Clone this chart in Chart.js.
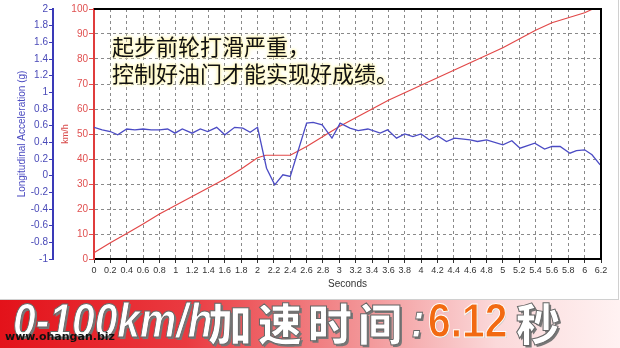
<!DOCTYPE html>
<html>
<head>
<meta charset="utf-8">
<script src="https://cdn.jsdelivr.net/npm/chart.js@4/dist/chart.umd.min.js"></script>
<style>
	html, body { margin: 0; padding: 0; background: #fff; }
	#wrap { position: relative; width: 620px; height: 348px; overflow: hidden; }
	#panel { position: absolute; left: 0; top: 0; width: 618px; height: 299px; border-right: 1px solid #d0d0d0; border-bottom: 1px solid #d0d0d0; }
	#note { position: absolute; left: 112px; top: 32px; font-family: "Noto Sans CJK SC", sans-serif; font-size: 22px; line-height: 27px; color: #111;
		text-shadow: 0 0 3px #fff6b8, 0 0 3px #fff6b8, 0 0 5px #fff3a0; }
	#banner { position: absolute; left: 0; top: 300px; width: 620px; height: 48px;
		background: linear-gradient(to right, #e3121a 0%, #ea3a40 30%, #f39a9c 60%, #fbd9da 80%, #fff2f2 100%); }
	#banner span { position: absolute; white-space: nowrap; color: #fff; -webkit-text-stroke: 1px #666; text-shadow: 2px 2px 0 #777; transform-origin: left top; }
	#banner .lat { top: -7px; font-family: "Liberation Sans", Arial, sans-serif; font-weight: bold; font-style: italic; font-size: 48px; line-height: 56px; transform: scaleX(0.85); }
	#banner .cjk { top: -6px; font-family: "Noto Sans CJK SC", sans-serif; font-weight: 900; font-size: 44px; line-height: 56px; letter-spacing: 6px; }
	#banner .num { color: #f26a12; -webkit-text-stroke: 1px #fff; text-shadow: 1px 1px 0 #c9c9c9; font-style: normal; }
	#site { position: absolute; left: 5px; top: 30px; font-family: "DejaVu Sans", sans-serif; font-weight: bold; font-size: 11px; color: #111; }
</style>
</head>
<body>
<div id="wrap">
	<div id="panel"><canvas id="chart" width="618" height="299"></canvas></div>
	<div id="note">起步前轮打滑严重，<br>控制好油门才能实现好成绩。</div>
	<div id="banner">
		<span class="lat" style="left:13px;">0-100km/h</span>
		<span class="cjk" style="left:208px;">加速时间</span>
		<span class="lat" style="left:411px;">:</span>
		<span class="lat num" style="left:428px;">6.12</span>
		<span class="cjk" style="left:516px;">秒</span>
		<div id="site">www.ohangan.biz</div>
	</div>
</div>
<script>
// 차속 (km/h)
const speedTime = [0, 0.2, 0.4, 0.6, 0.8, 1.0, 1.2, 1.4, 1.6, 1.8, 2.0, 2.1, 2.4, 2.6, 2.8, 3.0, 3.2, 3.4, 3.6, 3.8, 4.0, 4.2, 4.4, 4.6, 4.8, 5.0, 5.2, 5.4, 5.6, 5.8, 6.0, 6.1];
const speedKmh = [2.5, 6.5, 10.2, 14, 18, 21.5, 25, 28.5, 32, 36, 40.5, 41.5, 41.5, 45, 49, 53, 56.5, 60, 63.5, 66.5, 69.5, 72.5, 75.5, 78.5, 81.5, 84.5, 88, 91.5, 94.5, 96.5, 98.5, 100];

// 종방향 가속도 (g)
const accelTime = [0, 0.1, 0.2, 0.29, 0.4, 0.5, 0.6, 0.7, 0.8, 0.9, 0.99, 1.08, 1.2, 1.3, 1.39, 1.5, 1.6, 1.72, 1.82, 1.91, 2.0, 2.11, 2.21, 2.31, 2.4, 2.6, 2.68, 2.79, 2.91, 3.01, 3.13, 3.23, 3.35, 3.5, 3.59, 3.7, 3.8, 3.9, 4.0, 4.1, 4.2, 4.31, 4.41, 4.6, 4.69, 4.8, 5.0, 5.11, 5.21, 5.39, 5.51, 5.6, 5.7, 5.82, 5.9, 6.0, 6.09, 6.19];
const accelG = [0.58, 0.55, 0.53, 0.49, 0.56, 0.55, 0.56, 0.55, 0.55, 0.56, 0.51, 0.56, 0.51, 0.56, 0.53, 0.58, 0.49, 0.58, 0.57, 0.52, 0.58, 0.09, -0.11, 0.01, -0.01, 0.63, 0.64, 0.61, 0.45, 0.63, 0.57, 0.54, 0.56, 0.51, 0.55, 0.45, 0.50, 0.47, 0.50, 0.43, 0.48, 0.41, 0.45, 0.43, 0.41, 0.43, 0.37, 0.42, 0.33, 0.39, 0.32, 0.35, 0.35, 0.27, 0.30, 0.31, 0.25, 0.13];

const fmt = v => String(+Number(v).toFixed(1));
const tickFont = { family: "Liberation Sans", size: 9 };

// 위쪽, 오른쪽 테두리
const frame = {
	id: 'frame',
	afterDatasetsDraw(chart) {
		const { ctx, chartArea: a } = chart;
		ctx.save();
		ctx.strokeStyle = '#000';
		ctx.lineWidth = 2;
		ctx.beginPath();
		ctx.moveTo(a.left, a.top);
		ctx.lineTo(a.right, a.top);
		ctx.lineTo(a.right, a.bottom);
		ctx.stroke();
		ctx.restore();
	}
};

new Chart(document.getElementById('chart'), {
	type: 'line',
	data: {
		datasets: [
			{
				label: 'Longitudinal Acceleration',
				data: accelTime.map((t, i) => ({ x: t, y: accelG[i] })),
				yAxisID: 'yAcc',
				borderColor: '#4b4bc4',
				borderWidth: 1.3,
				pointRadius: 0,
				tension: 0
			},
			{
				label: 'km/h',
				data: speedTime.map((t, i) => ({ x: t, y: speedKmh[i] })),
				yAxisID: 'ySpeed',
				borderColor: '#e24848',
				borderWidth: 1.2,
				pointRadius: 0,
				tension: 0
			}
		]
	},
	options: {
		responsive: false,
		animation: false,
		layout: { padding: { top: 9, right: 17, bottom: 7, left: 0 } },
		plugins: { legend: { display: false }, tooltip: { enabled: false } },
		scales: {
			x: {
				type: 'linear',
				min: 0,
				max: 6.2,
				afterBuildTicks: s => { s.ticks = []; for (let i = 0; i <= 31; i++) s.ticks.push({ value: i / 5 }); },
				afterFit: s => { s.height = 33; },
				ticks: { autoSkip: false, maxRotation: 0, padding: 2, color: '#333', font: tickFont, callback: fmt },
				grid: { color: '#8a8a8a', tickColor: '#333', tickLength: 4, lineWidth: 1, tickBorderDash: [] },
				border: { color: '#000', width: 2, dash: [3, 3] },
				title: { display: true, text: 'Seconds', color: '#333', font: { family: "Liberation Sans", size: 10 }, padding: { top: 0, bottom: 2 } }
			},
			ySpeed: {
				position: 'left',
				weight: 0,
				min: 0,
				max: 100,
				afterFit: s => { s.width = 41; },
				ticks: { stepSize: 10, padding: 1, color: '#e05050', font: { family: "Liberation Sans", size: 10 } },
				grid: { color: '#8a8a8a', tickColor: '#e05050', tickLength: 5, tickBorderDash: [] },
				border: { color: '#e03c3c', width: 2, dash: [3, 3] },
				title: { display: true, text: 'km/h', color: '#d84a4a', font: { family: "Liberation Sans", size: 9 }, padding: { top: 7, bottom: 0 } }
			},
			yAcc: {
				position: 'left',
				weight: 1,
				min: -1,
				max: 2,
				afterFit: s => { s.width = 53; },
				afterBuildTicks: s => { s.ticks = []; for (let i = -5; i <= 10; i++) s.ticks.push({ value: i / 5 }); },
				ticks: { padding: 1, color: '#4a4ab8', font: { family: "Liberation Sans", size: 10 }, callback: fmt },
				grid: { drawOnChartArea: false, tickColor: '#3a3ab8', tickLength: 4 },
				border: { color: '#3a3ab8', width: 2 },
				title: { display: true, text: 'Longitudinal Acceleration (g)', color: '#4a4ac0', font: { family: "Liberation Sans", size: 10 }, padding: { top: 16, bottom: 0 } }
			}
		}
	},
	plugins: [frame]
});
</script>
</body>
</html>
